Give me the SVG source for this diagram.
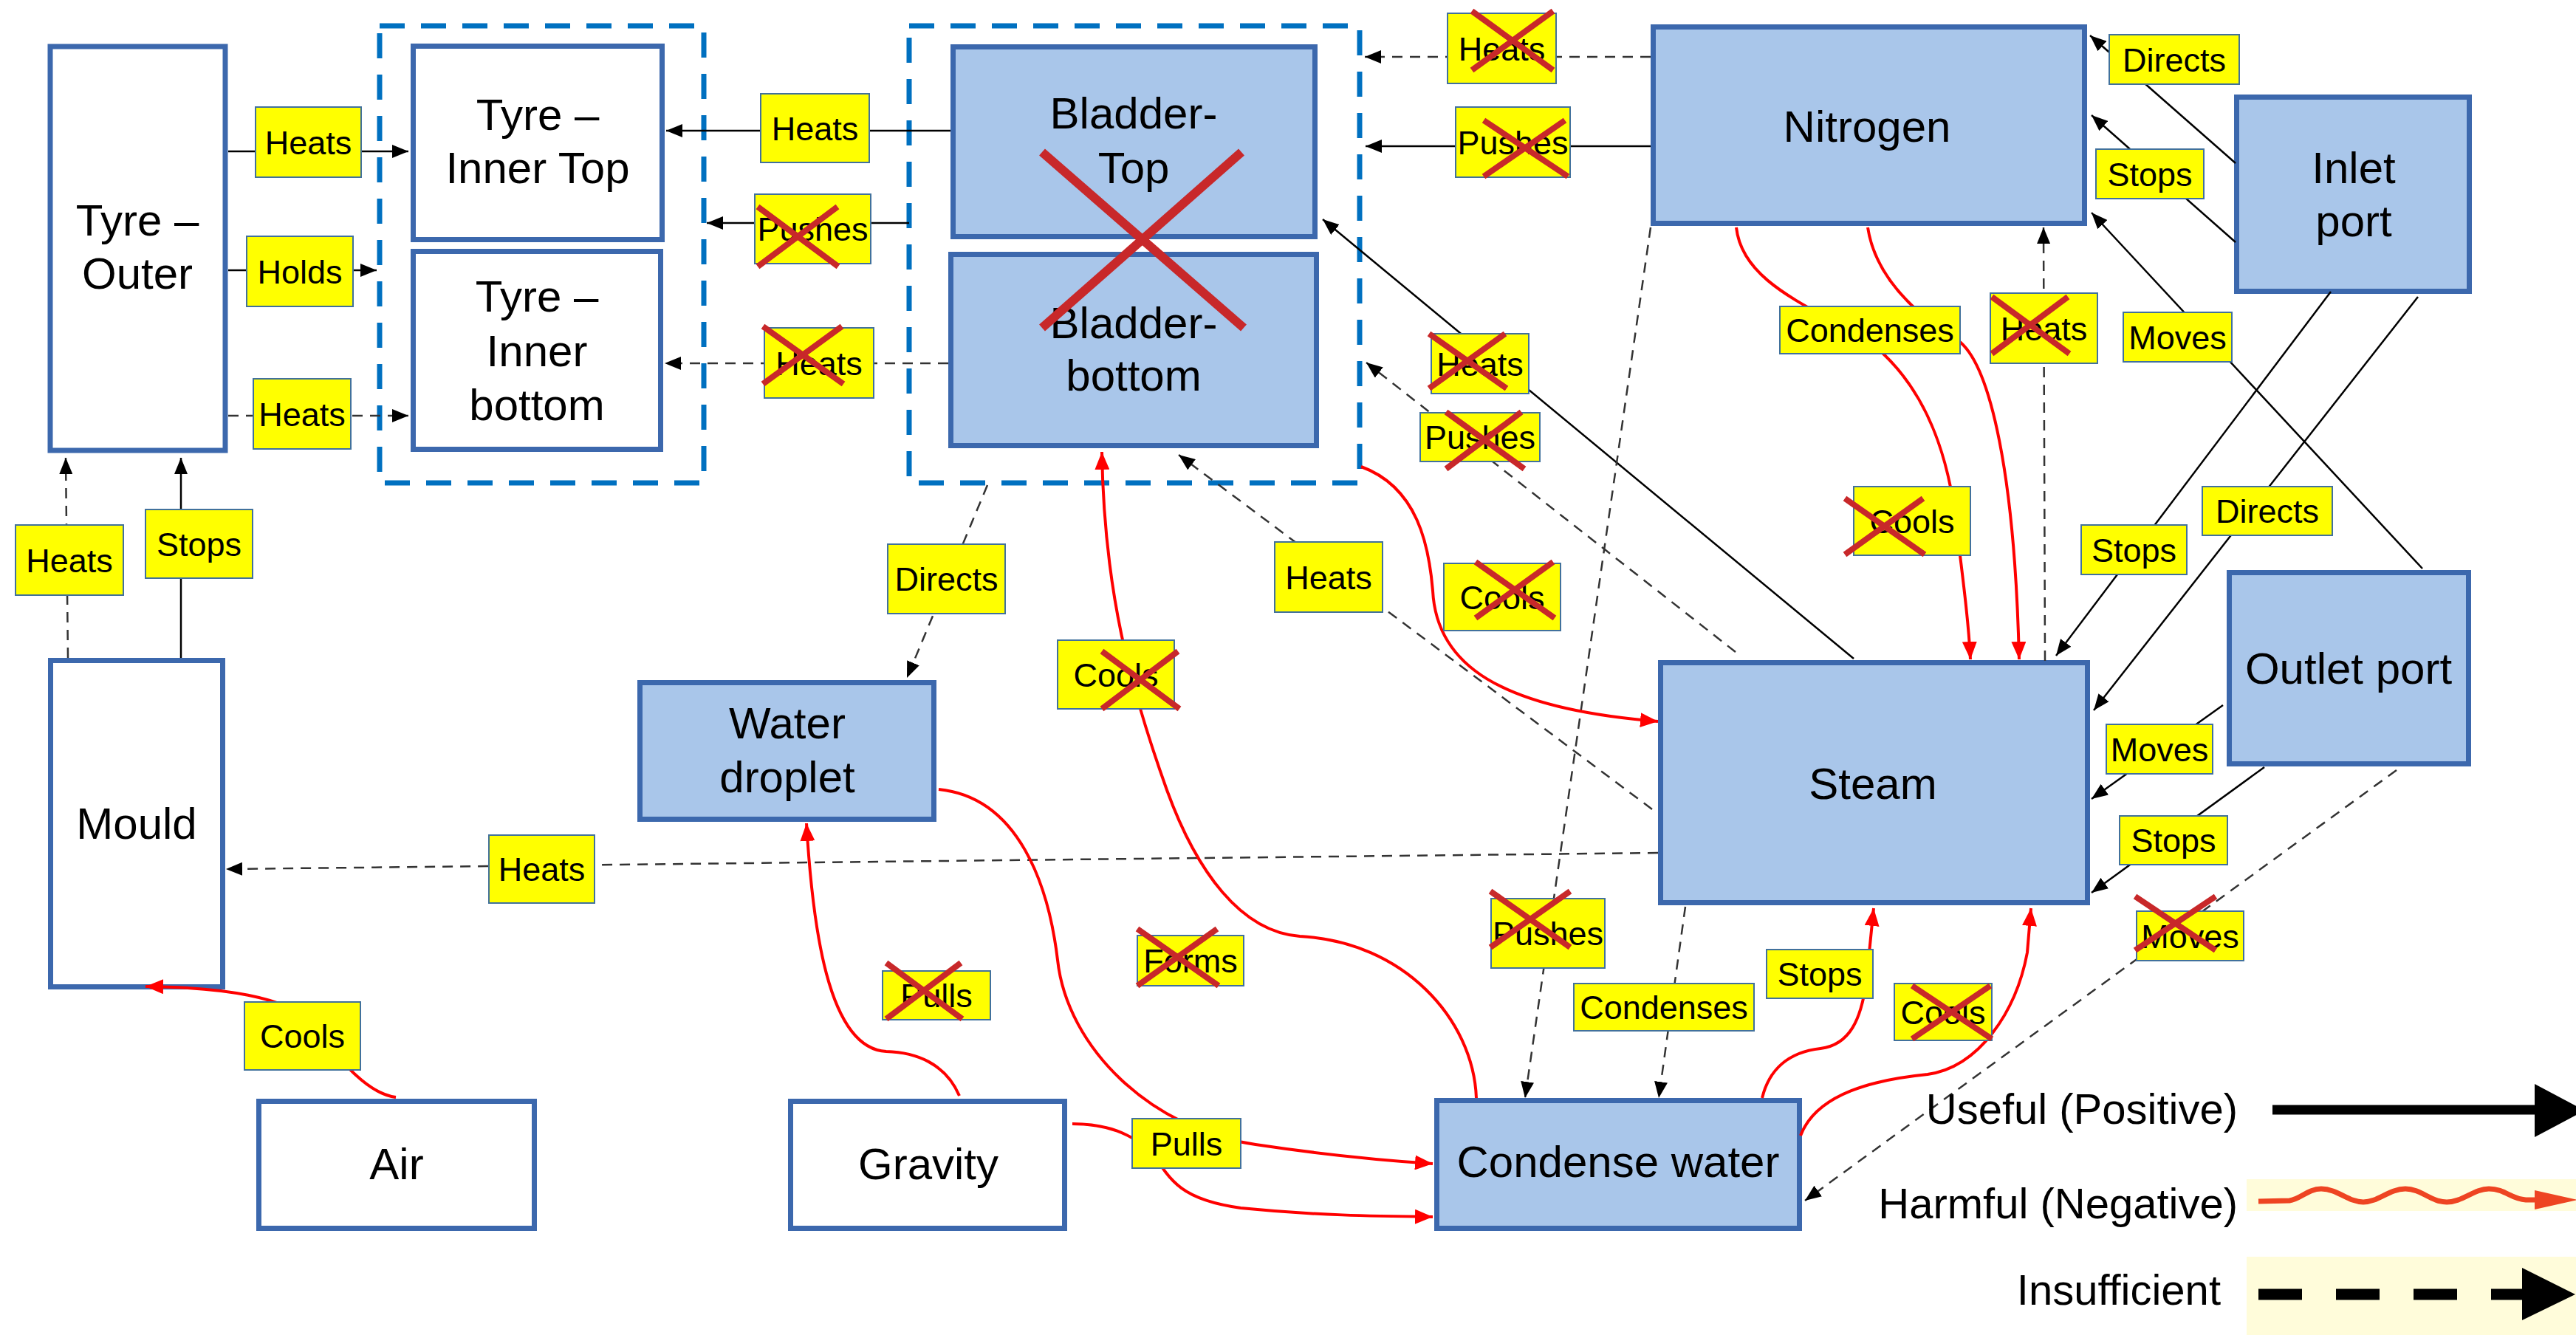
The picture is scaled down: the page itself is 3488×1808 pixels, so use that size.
<svg xmlns="http://www.w3.org/2000/svg" width="3488" height="1808" viewBox="0 0 3488 1808">
  <defs>
    <style>
      .node rect { stroke: #3C68AD; stroke-width: 7; }
      .white { fill: #FFFFFF; }
      .blue { fill: #A9C6EA; }
      .nt { font-family: "Liberation Sans", Arial, sans-serif; font-size: 60px; fill: #000; text-anchor: middle; }
      .grp { fill: none; stroke: #0070C0; stroke-width: 7; stroke-dasharray: 34 22; }
      .solid { fill: none; stroke: #000; stroke-width: 2.5; marker-end: url(#ah); }
      .dash { fill: none; stroke: #333; stroke-width: 2.5; stroke-dasharray: 14 10; marker-end: url(#ah); }
      .harm { fill: none; stroke: #FF0000; stroke-width: 4; marker-end: url(#ahr); }
      .lbl rect { fill: #FFFF00; stroke: #41719C; stroke-width: 2; }
      .lt { font-family: "Liberation Sans", Arial, sans-serif; font-size: 45px; fill: #000; text-anchor: middle; }
      .x { fill: none; stroke: #C8282A; stroke-width: 8; }
      .leg { font-family: "Liberation Sans", Arial, sans-serif; font-size: 58px; fill: #000; text-anchor: end; }
    </style>
    <marker id="ah" markerUnits="userSpaceOnUse" markerWidth="24" markerHeight="18" refX="22" refY="9" orient="auto">
      <path d="M0,0 L22,9 L0,18 z" fill="#000"/>
    </marker>
    <marker id="ahr" markerUnits="userSpaceOnUse" markerWidth="26" markerHeight="20" refX="24" refY="10" orient="auto">
      <path d="M0,0 L24,10 L0,20 z" fill="#FF0000"/>
    </marker>
  </defs>

  <rect width="3488" height="1808" fill="#FFFFFF"/>

  <!-- dashed system boundaries -->
  <rect id="tyre-inner-group" class="grp" x="514" y="35" width="439" height="619"/>
  <rect id="bladder-group" class="grp" x="1231" y="35" width="610" height="619"/>

  <!-- components -->
  <g id="tyre-outer" class="node">
    <rect class="white" x="68" y="63" width="237" height="547"/>
    <text class="nt"><tspan x="186" y="319">Tyre –</tspan><tspan x="186" y="391">Outer</tspan></text>
  </g>
  <g id="tyre-inner-top" class="node">
    <rect class="white" x="559.5" y="62.5" width="337" height="262"/>
    <text class="nt"><tspan x="728" y="176">Tyre –</tspan><tspan x="728" y="248">Inner Top</tspan></text>
  </g>
  <g id="tyre-inner-bottom" class="node">
    <rect class="white" x="559.5" y="340.5" width="335" height="268"/>
    <text class="nt"><tspan x="727" y="422">Tyre –</tspan><tspan x="727" y="496">Inner</tspan><tspan x="727" y="569">bottom</tspan></text>
  </g>
  <g id="bladder-top" class="node">
    <rect class="blue" x="1290.5" y="63.5" width="490" height="257"/>
    <text class="nt"><tspan x="1535" y="174">Bladder-</tspan><tspan x="1535" y="248">Top</tspan></text>
  </g>
  <g id="bladder-bottom" class="node">
    <rect class="blue" x="1287.5" y="344.5" width="495" height="259"/>
    <text class="nt"><tspan x="1535" y="458">Bladder-</tspan><tspan x="1535" y="529">bottom</tspan></text>
  </g>
  <g id="nitrogen" class="node">
    <rect class="blue" x="2238.5" y="36.5" width="584" height="266"/>
    <text class="nt" x="2528" y="192">Nitrogen</text>
  </g>
  <g id="inlet-port" class="node">
    <rect class="blue" x="3028.5" y="131.5" width="315" height="263"/>
    <text class="nt"><tspan x="3187" y="248">Inlet</tspan><tspan x="3187" y="320">port</tspan></text>
  </g>
  <g id="steam" class="node">
    <rect class="blue" x="2248.5" y="897.5" width="578" height="325"/>
    <text class="nt" x="2536" y="1082">Steam</text>
  </g>
  <g id="outlet-port" class="node">
    <rect class="blue" x="3018.5" y="775.5" width="324" height="259"/>
    <text class="nt" x="3180" y="926">Outlet port</text>
  </g>
  <g id="water-droplet" class="node">
    <rect class="blue" x="866.5" y="924.5" width="398" height="185"/>
    <text class="nt"><tspan x="1066" y="1000">Water</tspan><tspan x="1066" y="1073">droplet</tspan></text>
  </g>
  <g id="mould" class="node">
    <rect class="white" x="68.5" y="894.5" width="233" height="442"/>
    <text class="nt" x="185" y="1136">Mould</text>
  </g>
  <g id="air" class="node">
    <rect class="white" x="350.5" y="1491.5" width="373" height="172"/>
    <text class="nt" x="537" y="1597">Air</text>
  </g>
  <g id="gravity" class="node">
    <rect class="white" x="1070.5" y="1491.5" width="371" height="172"/>
    <text class="nt" x="1257" y="1597">Gravity</text>
  </g>
  <g id="condense-water" class="node">
    <rect class="blue" x="1945.5" y="1490.5" width="491" height="173"/>
    <text class="nt" x="2191" y="1594">Condense water</text>
  </g>

  <!-- interactions -->
  <g id="connectors">
    <path class="solid" d="M309,205 L553,205"/>
    <path class="solid" d="M309,366 L510,366"/>
    <path class="dash" d="M309,563 L553,563"/>
    <path class="solid" d="M1287,177 L902,177"/>
    <path class="solid" d="M1231,302 L957,302"/>
    <path class="dash" d="M1284,492 L900,492"/>
    <path class="dash" d="M2235,77 L1848,77"/>
    <path class="solid" d="M2235,198 L1849,198"/>
    <path class="solid" d="M3027,221 L2830,48"/>
    <path class="solid" d="M3027,328 L2832,156"/>
    <path class="solid" d="M3156,395 L2784,888"/>
    <path class="solid" d="M3274,402 L2835,962"/>
    <path class="solid" d="M3280,770 L2832,288"/>
    <path class="solid" d="M3010,955 L2832,1082"/>
    <path class="solid" d="M3066,1039 L2832,1209"/>
    <path class="dash" d="M3245,1043 L2444,1626"/>
    <path class="solid" d="M2510,892 L1791,297"/>
    <path class="dash" d="M2350,883 L1850,491"/>
    <path class="dash" d="M2237,1096 L1596,616"/>
    <path class="dash" d="M2245,1155 L306,1177"/>
    <path class="dash" d="M2235,308 L2065,1487"/>
    <path class="dash" d="M2282,1228 L2246,1487"/>
    <path class="dash" d="M2769,895 L2767,308"/>
    <path class="dash" d="M92,891 L89,620"/>
    <path class="solid" d="M245,891 L245,620"/>
    <path class="dash" d="M1337,657 L1228,918"/>

    <path class="harm" d="M2351,308 C2360,390 2470,420 2540,470 C2610,530 2640,620 2650,720 C2660,800 2666,850 2668,893"/>
    <path class="harm" d="M2529,308 C2540,380 2600,430 2655,464 C2695,500 2728,640 2734,893"/>
    <path class="harm" d="M1843,632 C1920,660 1935,740 1940,800 C1945,900 2030,960 2245,977"/>
    <path class="harm" d="M1999,1487 C1995,1380 1900,1275 1760,1268 C1680,1262 1620,1180 1580,1070 C1530,930 1495,800 1492,612"/>
    <path class="harm" d="M1271,1069 C1380,1080 1420,1200 1432,1300 C1445,1420 1560,1530 1700,1550 C1800,1565 1880,1572 1940,1576"/>
    <path class="harm" d="M1299,1484 C1280,1440 1240,1425 1200,1424 C1120,1420 1100,1250 1092,1115"/>
    <path class="harm" d="M1452,1522 C1500,1522 1530,1535 1560,1560 C1585,1600 1600,1625 1680,1636 C1780,1646 1860,1647 1940,1648"/>
    <path class="harm" d="M2386,1487 C2395,1450 2420,1425 2465,1420 C2505,1415 2520,1380 2527,1330 L2537,1230"/>
    <path class="harm" d="M2438,1538 C2460,1480 2540,1462 2610,1455 C2680,1445 2730,1370 2745,1290 L2750,1230"/>
    <path class="harm" d="M536,1486 C490,1480 450,1420 420,1385 C390,1350 300,1337 197,1336"/>
  </g>

  <!-- interaction labels -->
  <g id="labels">
    <g class="lbl"><rect x="346" y="145" width="143" height="95"/><text class="lt" x="417.5" y="208.5">Heats</text></g>
    <g class="lbl"><rect x="334" y="320" width="144" height="95"/><text class="lt" x="406" y="383.5">Holds</text></g>
    <g class="lbl"><rect x="343" y="513" width="132" height="95"/><text class="lt" x="409" y="576.5">Heats</text></g>
    <g class="lbl"><rect x="1030" y="127" width="147" height="93"/><text class="lt" x="1103.5" y="189.5">Heats</text></g>
    <g class="lbl"><rect x="1022" y="263" width="157" height="94"/><text class="lt" x="1100.5" y="326">Pushes</text><path class="x" d="M1026,280 L1135,361 M1134,280 L1026,361"/></g>
    <g class="lbl"><rect x="1035" y="444" width="148" height="95"/><text class="lt" x="1109" y="507.5">Heats</text><path class="x" d="M1033,442 L1142,520 M1140,442 L1033,520"/></g>
    <g class="lbl"><rect x="1960" y="18" width="147" height="95"/><text class="lt" x="2033.5" y="81.5">Heats</text><path class="x" d="M1993,15 L2103,95 M2103,15 L1993,95"/></g>
    <g class="lbl"><rect x="1971" y="145" width="155" height="95"/><text class="lt" x="2048.5" y="208.5">Pushes</text><path class="x" d="M2009,163 L2123,239 M2119,163 L2009,239"/></g>
    <g class="lbl"><rect x="2856" y="47" width="176" height="67"/><text class="lt" x="2944" y="96.5">Directs</text></g>
    <g class="lbl"><rect x="2838" y="202" width="146" height="67"/><text class="lt" x="2911" y="251.5">Stops</text></g>
    <g class="lbl"><rect x="2410" y="415" width="244" height="64"/><text class="lt" x="2532" y="463">Condenses</text></g>
    <g class="lbl"><rect x="2695" y="397" width="145" height="95"/><text class="lt" x="2767.5" y="460.5">Heats</text><path class="x" d="M2697,402 L2802,479 M2800,402 L2697,479"/></g>
    <g class="lbl"><rect x="2875" y="423" width="147" height="67"/><text class="lt" x="2948.5" y="472.5">Moves</text></g>
    <g class="lbl"><rect x="1938" y="452" width="132" height="81"/><text class="lt" x="2004" y="508.5">Heats</text><path class="x" d="M1935,452 L2040,526 M2038,452 L1935,526"/></g>
    <g class="lbl"><rect x="1923" y="559" width="162" height="66"/><text class="lt" x="2004" y="608">Pushes</text><path class="x" d="M1958,558 L2064,635 M2060,558 L1958,635"/></g>
    <g class="lbl"><rect x="1726" y="734" width="146" height="95"/><text class="lt" x="1799" y="797.5">Heats</text></g>
    <g class="lbl"><rect x="1955" y="763" width="158" height="91"/><text class="lt" x="2034" y="824.5">Cools</text><path class="x" d="M1998,761 L2105,837 M2103,761 L1998,837"/></g>
    <g class="lbl"><rect x="2510" y="659" width="158" height="93"/><text class="lt" x="2589" y="721.5">Cools</text><path class="x" d="M2498,675 L2606,751 M2604,675 L2498,751"/></g>
    <g class="lbl"><rect x="2818" y="711" width="143" height="67"/><text class="lt" x="2889.5" y="760.5">Stops</text></g>
    <g class="lbl"><rect x="2982" y="659" width="176" height="66"/><text class="lt" x="3070" y="708">Directs</text></g>
    <g class="lbl"><rect x="2852" y="981" width="144" height="67"/><text class="lt" x="2924" y="1030.5">Moves</text></g>
    <g class="lbl"><rect x="2870" y="1105" width="146" height="66"/><text class="lt" x="2943" y="1154">Stops</text></g>
    <g class="lbl"><rect x="2893" y="1234" width="145" height="67"/><text class="lt" x="2965.5" y="1283.5">Moves</text><path class="x" d="M2891,1214 L3000,1287 M3000,1214 L2891,1287"/></g>
    <g class="lbl"><rect x="2392" y="1286" width="144" height="66"/><text class="lt" x="2464" y="1335">Stops</text></g>
    <g class="lbl"><rect x="2565" y="1332" width="132" height="77"/><text class="lt" x="2631" y="1386.5">Cools</text><path class="x" d="M2589,1335 L2697,1407 M2695,1335 L2589,1407"/></g>
    <g class="lbl"><rect x="2019" y="1217" width="154" height="94"/><text class="lt" x="2096" y="1280">Pushes</text><path class="x" d="M2018,1207 L2126,1283 M2126,1207 L2018,1283"/></g>
    <g class="lbl"><rect x="2131" y="1332" width="244" height="64"/><text class="lt" x="2253" y="1380">Condenses</text></g>
    <g class="lbl"><rect x="1202" y="737" width="159" height="94"/><text class="lt" x="1281.5" y="800">Directs</text></g>
    <g class="lbl"><rect x="1432" y="867" width="158" height="93"/><text class="lt" x="1511" y="929.5">Cools</text><path class="x" d="M1492,882 L1597,960 M1595,882 L1492,960"/></g>
    <g class="lbl"><rect x="1540" y="1267" width="144" height="68"/><text class="lt" x="1612" y="1317">Forms</text><path class="x" d="M1540,1258 L1650,1335 M1648,1258 L1540,1335"/></g>
    <g class="lbl"><rect x="1195" y="1315" width="146" height="66"/><text class="lt" x="1268" y="1364">Pulls</text><path class="x" d="M1200,1304 L1303,1380 M1301,1304 L1200,1380"/></g>
    <g class="lbl"><rect x="1533" y="1515" width="147" height="67"/><text class="lt" x="1606.5" y="1564.5">Pulls</text></g>
    <g class="lbl"><rect x="21" y="711" width="146" height="95"/><text class="lt" x="94" y="774.5">Heats</text></g>
    <g class="lbl"><rect x="197" y="690" width="145" height="93"/><text class="lt" x="269.5" y="752.5">Stops</text></g>
    <g class="lbl"><rect x="662" y="1131" width="143" height="92"/><text class="lt" x="733.5" y="1193">Heats</text></g>
    <g class="lbl"><rect x="331" y="1357" width="157" height="92"/><text class="lt" x="409.5" y="1419">Cools</text></g>
  </g>

  <!-- bladder removed -->
  <path id="bladder-cross" d="M1411,206 L1684,444 M1681,206 L1411,444" fill="none" stroke="#C8282A" stroke-width="12"/>

  <!-- legend -->
  <g id="legend">
    <rect x="3042" y="1597" width="446" height="43" fill="#FFFCDA"/>
    <rect x="3042" y="1702" width="446" height="106" fill="#FFFCDA"/>
    <text class="leg" x="3030" y="1522">Useful (Positive)</text>
    <line x1="3077" y1="1503" x2="3436" y2="1503" stroke="#000" stroke-width="13"/>
    <polygon points="3432,1468 3500,1504 3432,1540" fill="#000"/>
    <text class="leg" x="3030" y="1650">Harmful (Negative)</text>
    <path d="M3058,1627 L3100,1626 C3115,1624 3125,1610 3143,1610 C3165,1610 3180,1628 3200,1628 C3220,1628 3235,1610 3257,1610 C3278,1610 3292,1628 3313,1628 C3334,1628 3350,1610 3370,1610 C3392,1610 3400,1624 3420,1625 L3440,1625" fill="none" stroke="#EE4422" stroke-width="7"/>
    <polygon points="3432,1612 3490,1625 3432,1638" fill="#EE4422"/>
    <text class="leg" x="3007" y="1767">Insufficient</text>
    <line x1="3058" y1="1753" x2="3416" y2="1753" stroke="#000" stroke-width="15" stroke-dasharray="59 46"/>
    <polygon points="3415,1717 3487,1753 3415,1788" fill="#000"/>
  </g>
</svg>
